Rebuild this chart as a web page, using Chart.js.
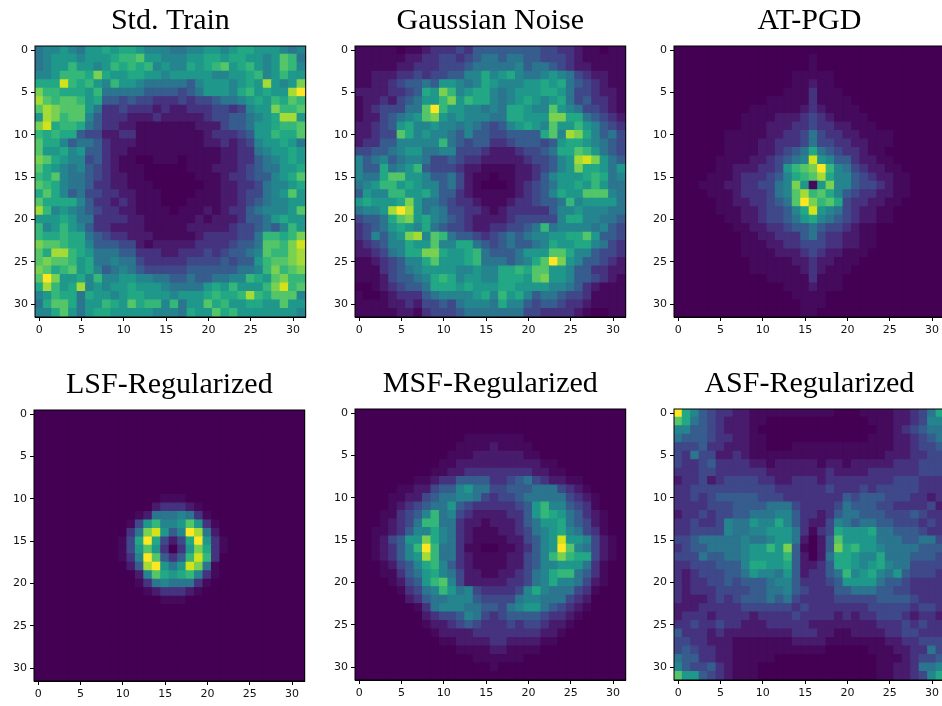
<!DOCTYPE html>
<html>
<head>
<meta charset="utf-8">
<title>Fourier heatmaps</title>
<script src="https://cdn.jsdelivr.net/npm/chart.js@4"></script>
<style>
  html, body { margin: 0; padding: 0; background: #fff; }
  body { position: relative; width: 942px; height: 706px; overflow: hidden; }
  canvas { position: absolute; filter: blur(0.4px); }
</style>
</head>
<body>
<script>
// Each row is 32 cells, one hex digit per cell (0 = darkest, f = brightest)
const stdTrain = [
  "67787688989987776677887899888767",
  "6788878889aab8877788998998878ba6",
  "6788a8878a9a9a7877989ab89a878ba7",
  "778aaa9c988998878888877889a78a88",
  "999ea9a87a88766666578887898d878c",
  "caa9998a66666555545688879a8988df",
  "dbabba8955454433343445667898a9ba",
  "bdcbbb8633433323223334434788caab",
  "8dcabb75333222322222344556789dd8",
  "ce9aa965332211111112224556889aab",
  "a9a9954422331111111123334588a99b",
  "b9975665322211111111223234788986",
  "b8897855322111111111112233678898",
  "cb987745321100111011112233567898",
  "b9876754321110000011122234566889",
  "a9b7665432211000000111233455789b",
  "ba976653322111000000112233467789",
  "9b9756443322111000011122344678b8",
  "b9999753323211100011112234567788",
  "da78765433221111011121233567778b",
  "88898663333221111112122235568988",
  "a78a87533222211111222223445657a8",
  "a99a99654332221111123333446aa9ac",
  "cbba99755544212222233334556bbace",
  "b9dda9866655333223334345567baacd",
  "bcbba8966766433333444454558abbcd",
  "cb9ab8975676544444555555667acabc",
  "bfc8897a77887766556556677a98bcaa",
  "9da89d78788988876666898a888aceab",
  "78a996988789988878889a99ada9bbb7",
  "69bb9688a98b9aa7a688b9a889988b88",
  "779b86899888887776988b9a88888887"
];
const gaussianNoise = [
  "11111011233343555555554433211011",
  "11111122334434566566554443211111",
  "11111223334445666667566543221111",
  "11222334344557797897667876432211",
  "11223455658876798777889896543211",
  "2222334598ca78997678889986443221",
  "1223245688ac8a997678987896453321",
  "12344466bfa887767699877b87644321",
  "12245678bc8787776699888cc9965432",
  "22345897787767654578987b88a87543",
  "22344b97877657554455559b7dc97564",
  "2335577777a654553345554589987654",
  "44556788667744432223445699ba8654",
  "75675677644543322222344578dec865",
  "7559678a544432211112234578c99868",
  "7669bb8875564211011223578889a967",
  "678aa89877564210001234568898a866",
  "5877aa889755321111123457988bbb76",
  "898889c866543321112334556a788886",
  "6778dfd8676443321233333577877766",
  "45569bc8976543222234444479977665",
  "3456898796544322334456a677776754",
  "347578cd7ba6554345656778899b8554",
  "234577988b7799654565567988997643",
  "22346799cc9889a65556888bb9775443",
  "112345779b8889a6665679bfc8755432",
  "1113456788887787799a9bb887553322",
  "1112455679a9788779998bc887554321",
  "00123455699989888998888776532111",
  "10012333567777897a89756654431111",
  "11112232445467776977545543321111",
  "11111221344456666666443333210011"
];
const atPgd = [
  "00000000000000000000000000000000",
  "00000000000000001000000000000000",
  "00000000000000001000000000000000",
  "00000000000000111110000000000000",
  "00000000000000112110000000000000",
  "00000000000001113111000000000000",
  "00000000000111113111100000000000",
  "00000000011111123211110000000000",
  "00000000111122234321111000000000",
  "00000000111222334332211100000000",
  "00000011111223346433221111000000",
  "00000011112233346443322111000000",
  "00000011112234569654332110000000",
  "0000011112234567e875532211000000",
  "00000112223348abcfa7643221100000",
  "000011123334579abd97754322110000",
  "00011122334467c818c7754432110000",
  "00001112333467bdab97543322110000",
  "00000112233456bfcab9433221100000",
  "0000011122344579e876432211000000",
  "00000011223445689765432211000000",
  "00000001122334556544321100000000",
  "00000000112233356433221100000000",
  "00000000111223344433221100000000",
  "00000000111122234322111000000000",
  "00000000011111223221110000000000",
  "00000000011111123211100000000000",
  "00000000000111113111000000000000",
  "00000000000001112111000000000000",
  "00000000000000111100000000000000",
  "00000000000000011100000000000000",
  "00000000000000011000000000000000"
];
const lsfReg = [
  "00000000000000000000000000000000",
  "00000000000000000000000000000000",
  "00000000000000000000000000000000",
  "00000000000000000000000000000000",
  "00000000000000000000000000000000",
  "00000000000000000000000000000000",
  "00000000000000000000000000000000",
  "00000000000000000000000000000000",
  "00000000000000000000000000000000",
  "00000000000000000000000000000000",
  "00000000000000011100000000000000",
  "00000000000000233321000000000000",
  "00000000000012666763100000000000",
  "00000000000148a778b8310000000000",
  "0000000000036ce857fd620000000000",
  "0000000000149f94249f831000000000",
  "0000000000148b83038c931000000000",
  "0000000000137fb535aea30000000000",
  "0000000000025df868ec610000000000",
  "00000000000027b989a7310000000000",
  "00000000000013676663100000000000",
  "00000000000001233321000000000000",
  "00000000000000011100000000000000",
  "00000000000000000000000000000000",
  "00000000000000000000000000000000",
  "00000000000000000000000000000000",
  "00000000000000000000000000000000",
  "00000000000000000000000000000000",
  "00000000000000000000000000000000",
  "00000000000000000000000000000000",
  "00000000000000000000000000000000",
  "00000000000000000000000000000000"
];
const msfReg = [
  "00000000000000000000000000000000",
  "00000000000000000000000000000000",
  "00000000000000000000000000000000",
  "00000000000001111111000000000000",
  "00000000000011112111100000000000",
  "00000000000111222222110000000000",
  "00000000001122222222221100000000",
  "00000000011223333333322110000000",
  "00000001123355553345643221100000",
  "00000112245578664455566643210000",
  "00001122456677643445666664321000",
  "0000123456685433333458a775431000",
  "000113457a674322223358a986532100",
  "00012346aa6632212223568896542100",
  "00112357797632111223467897643100",
  "00124588c976321111224578e8874210",
  "0012357afa66311001123578fb764210",
  "00123578da6632111122457aca994210",
  "000124579a7532111122457788863100",
  "000113568976422112234679aa653100",
  "000012458ab742222233467977642100",
  "0000013467a867433334797666431000",
  "00000023566777544446776664320000",
  "00000001367776655467886543210000",
  "00000000234457643455554332100000",
  "00000000122345433343443221000000",
  "00000000012222333333332210000000",
  "00000000001122223322221100000000",
  "00000000000011112211110000000000",
  "00000000000000111111000000000000",
  "00000000000000001000000000000000",
  "00000000000000000000000000000000"
];
const asfReg = [
  "f9754332211111111110001111223469",
  "b9654322211000000000000111223477",
  "77554322210000000000000011234566",
  "65554332211000000000000111223456",
  "44453322211000111111111111223445",
  "43644223211111111111111112223344",
  "43345333322122222122122222333444",
  "33344333333222222232222333333444",
  "23342344443322333233333333444333",
  "33444444444433333343334344444333",
  "33434555554443333333545554443323",
  "33334445555666433334655544333342",
  "23343445566677533235665554445433",
  "33433476687797532247656655444343",
  "33444476677888631349888966555433",
  "4456666676678862025b888866655664",
  "34556666788a8c51025c9a8876666555",
  "4446556678888a520269987796665554",
  "33444555799889522359987897664444",
  "32344455687768523356a78976854443",
  "32334454555677533345888865543333",
  "32333444455667543335566655443333",
  "32223434555656433334444455554333",
  "22233333444444343333333444443443",
  "23332333323333433332323344432332",
  "33433433222333332222222233343433",
  "53332322222222333221122223344333",
  "44332221111111222211111112233444",
  "45433221111111111100000111223364",
  "65533221111100000000000011123445",
  "75445321110000000000000011223667",
  "b8854321110000000000000011223479"
];

const panelTitles = ["Std. Train", "Gaussian Noise", "AT-PGD", "LSF-Regularized", "MSF-Regularized", "ASF-Regularized"];
const panelGrids = [stdTrain, gaussianNoise, atPgd, lsfReg, msfReg, asfReg];
const tickValues = [0, 5, 10, 15, 20, 25, 30];

// left and top of each image inside the figure
const panelLeft = [35, 355, 674, 34, 355, 674];
const panelTop = [46, 46, 46, 410, 409, 409];

// viridis, one colour per level, finer steps at the dark end
const viridis = ['#440154', '#450a5c', '#481b6d', '#46337f', '#3f4889', '#365d8d', '#2b758e', '#25858e',
                 '#1f988b', '#22a884', '#35b779', '#54c568', '#7ad151', '#a5db36', '#d2e21b', '#fde725'];

// the scatter controller keeps radius + border free on the right of the plot
const CELL_RADIUS = 271 / 32 / Math.SQRT2, CELL_BORDER = 1.3;
const GUTTER = 35, SIDE = 271, BELOW = 26, ABOVE = 46;

const framePlugin = {
  id: 'frame',
  // dark underlay so no white comes through between the cells
  beforeDatasetsDraw(chart) {
    const a = chart.chartArea;
    chart.ctx.fillStyle = viridis[0];
    chart.ctx.fillRect(a.left, a.top, a.right - a.left, a.bottom - a.top);
  },
  // top and right spines, the scales only draw left and bottom
  afterDraw(chart) {
    const a = chart.chartArea, ctx = chart.ctx;
    ctx.save();
    ctx.strokeStyle = '#000';
    ctx.lineWidth = 1;
    ctx.strokeRect(a.left, a.top, a.right - a.left, a.bottom - a.top);
    ctx.restore();
  }
};

function axisOptions(extra) {
  return Object.assign({
    type: 'linear',
    min: -0.5,
    max: 31.5,
    afterBuildTicks: scale => { scale.ticks = tickValues.map(v => ({ value: v })); },
    grid: { drawOnChartArea: false, tickColor: '#000', tickLength: 4, tickWidth: 1 },
    border: { display: true, color: '#000' },
    ticks: {
      color: '#111',
      autoSkip: false,
      maxRotation: 0,
      padding: 3,
      font: { family: 'DejaVu Sans', size: 11 },
      callback: v => v
    }
  }, extra);
}

panelGrids.forEach((grid, p) => {
  const points = [], colors = [];
  grid.forEach((row, y) => {
    row.split('').forEach((c, x) => {
      points.push({ x: x, y: y });
      colors.push(viridis[parseInt(c, 16)]);
    });
  });

  const canvas = document.createElement('canvas');
  canvas.width = Math.round(GUTTER + SIDE + CELL_RADIUS + CELL_BORDER);
  canvas.height = ABOVE + SIDE + BELOW;
  canvas.style.left = (panelLeft[p] - GUTTER) + 'px';
  canvas.style.top = (panelTop[p] - ABOVE) + 'px';
  document.body.appendChild(canvas);

  new Chart(canvas.getContext('2d'), {
    type: 'scatter',
    data: {
      datasets: [{
        data: points,
        pointStyle: 'rect',
        pointBackgroundColor: colors,
        pointBorderColor: colors,
        pointBorderWidth: CELL_BORDER,
        pointRadius: CELL_RADIUS
      }]
    },
    options: {
      responsive: false,
      animation: false,
      events: [],
      scales: {
        x: axisOptions({
          position: 'bottom',
          afterFit: s => { s.height = BELOW; s.paddingLeft = 0; s.paddingRight = 0; }
        }),
        y: axisOptions({
          reverse: true,
          afterFit: s => { s.width = GUTTER; s.paddingTop = 0; s.paddingBottom = 0; }
        })
      },
      plugins: {
        legend: { display: false },
        tooltip: { enabled: false },
        title: {
          display: true,
          text: panelTitles[p],
          fullSize: false,
          color: '#000',
          font: { family: 'Liberation Serif', size: 30, weight: 'normal' },
          padding: { top: 3, bottom: 7 }
        }
      }
    },
    plugins: [framePlugin]
  });
});
</script>
</body>
</html>
